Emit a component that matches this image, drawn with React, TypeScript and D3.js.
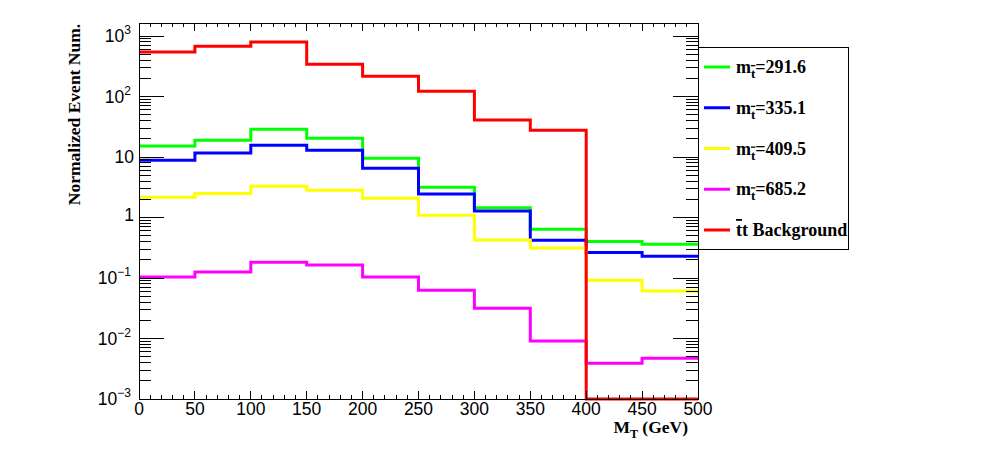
import { useEffect, useRef } from 'react';
import * as d3 from 'd3';

const W = 998;
const H = 471;

// bin edges in M_T (GeV)
const BIN_EDGES = [0, 50, 100, 150, 200, 250, 300, 350, 400, 450, 500];

const SIG_291 = [15.2, 19, 28.7, 20.5, 9.5, 3.16, 1.45, 0.64, 0.4, 0.36];
const SIG_335 = [8.8, 11.6, 15.6, 12.9, 6.5, 2.44, 1.28, 0.42, 0.265, 0.228];
const SIG_409 = [2.16, 2.5, 3.3, 2.82, 2.08, 1.09, 0.425, 0.313, 0.092, 0.061];
const SIG_685 = [0.104, 0.126, 0.182, 0.164, 0.104, 0.0627, 0.0316, 0.0091, 0.0039, 0.0047];
const TTBAR = [545, 675, 795, 340, 216, 122, 40.9, 27.6, 0, 0];

const SERIES = [
  { mass: '291.6', values: SIG_291, color: '#00ff00' },
  { mass: '335.1', values: SIG_335, color: '#0000ff' },
  { mass: '409.5', values: SIG_409, color: '#ffff00' },
  { mass: '685.2', values: SIG_685, color: '#ff00ff' },
  { mass: null, values: TTBAR, color: '#ff0000' },
];

const X_TICKS = [0, 50, 100, 150, 200, 250, 300, 350, 400, 450, 500];
const Y_TICKS = [1e-3, 1e-2, 1e-1, 1, 10, 1e2, 1e3];
const Y_LABELS = [['10', '\u22123'], ['10', '\u22122'], ['10', '\u22121'], ['1', ''], ['10', ''], ['10', '2'], ['10', '3']];

export default function App() {
  const svgRef = useRef<SVGSVGElement>(null);

  useEffect(() => {
    const svg = d3.select(svgRef.current);
    svg.selectAll('*').remove();

    const left = 139, right = 698, top = 23.3, bottom = 399;
    const yMin = 1e-3, yMax = Math.pow(10, 3.21);

    const x = d3.scaleLinear().domain([0, 500]).range([left, right]);
    const y = d3.scaleLog().domain([yMin, yMax]).range([bottom, top]);

    svg.append('rect').attr('width', W).attr('height', H).attr('fill', '#fff');

    // histograms
    const line = d3.line<[number, number]>()
      .x(d => x(d[0]))
      .y(d => y(Math.max(d[1], yMin)));

    const g = svg.append('g');
    SERIES.forEach(s => {
      const pts: [number, number][] = [];
      s.values.forEach((v, i) => {
        pts.push([BIN_EDGES[i], v]);
        pts.push([BIN_EDGES[i + 1], v]);
      });
      g.append('path')
        .attr('d', line(pts))
        .attr('fill', 'none')
        .attr('stroke', s.color)
        .attr('stroke-width', 3);
    });

    // frame
    const axes = svg.append('g').attr('stroke', '#000').attr('stroke-width', 1).attr('shape-rendering', 'crispEdges');
    axes.append('rect')
      .attr('x', left).attr('y', top)
      .attr('width', right - left).attr('height', bottom - top)
      .attr('fill', 'none');

    // x ticks (bottom & top)
    const xMinor = d3.range(0, 501, 10);
    xMinor.forEach(v => {
      const major = v % 50 === 0;
      const len = major ? 8 : 4;
      axes.append('line').attr('x1', x(v)).attr('x2', x(v)).attr('y1', bottom).attr('y2', bottom - len);
      axes.append('line').attr('x1', x(v)).attr('x2', x(v)).attr('y1', top).attr('y2', top + len);
    });

    // y ticks (left & right)
    for (let e = -3; e <= 3; e++) {
      for (let m = 1; m <= 9; m++) {
        const v = m * Math.pow(10, e);
        if (v > yMax) continue;
        const len = m === 1 ? 25 : 12;
        axes.append('line').attr('x1', left).attr('x2', left + len).attr('y1', y(v)).attr('y2', y(v));
        axes.append('line').attr('x1', right).attr('x2', right - len).attr('y1', y(v)).attr('y2', y(v));
      }
    }

    // tick labels
    const font = "'Liberation Sans', Arial, sans-serif";
    X_TICKS.forEach(v => {
      svg.append('text')
        .attr('x', x(v)).attr('y', 415)
        .attr('text-anchor', 'middle')
        .attr('font-family', font).attr('font-size', 17.5)
        .text(String(v));
    });

    Y_TICKS.forEach((v, i) => {
      const [base, exp] = Y_LABELS[i];
      const t = svg.append('text')
        .attr('x', exp ? 131 : 134).attr('y', y(v) + (base === '1' ? 3 : 6))
        .attr('text-anchor', 'end')
        .attr('font-family', font).attr('font-size', 17.5);
      t.append('tspan').text(base);
      if (exp) t.append('tspan').attr('font-size', 12).attr('dy', -8).text(exp);
    });

    // axis titles
    const serif = "'Liberation Serif', 'Times New Roman', serif";
    svg.append('text')
      .attr('transform', 'translate(80,114.5) rotate(-90)')
      .attr('text-anchor', 'middle')
      .attr('font-family', serif).attr('font-weight', 'bold').attr('font-size', 17.5)
      .text('Normalized Event Num.');

    const xt = svg.append('text')
      .attr('x', 688).attr('y', 433)
      .attr('text-anchor', 'end')
      .attr('font-family', serif).attr('font-weight', 'bold').attr('font-size', 17.5);
    xt.append('tspan').text('M');
    xt.append('tspan').attr('font-size', 12).attr('dy', 5).text('T');
    xt.append('tspan').attr('dy', -5).text(' (GeV)');

    // legend
    const lg = svg.append('g');
    lg.append('rect')
      .attr('x', 698).attr('y', 47).attr('width', 150).attr('height', 202)
      .attr('fill', '#fff').attr('stroke', '#000').attr('stroke-width', 1)
      .attr('shape-rendering', 'crispEdges');

    const rowY = d3.scalePoint<number>().domain(d3.range(SERIES.length)).range([67, 230]);
    SERIES.forEach((s, i) => {
      const cy = rowY(i)!;
      lg.append('line')
        .attr('x1', 704).attr('x2', 730).attr('y1', cy).attr('y2', cy)
        .attr('stroke', s.color).attr('stroke-width', 3);
      const t = lg.append('text')
        .attr('x', 736).attr('y', cy + 6)
        .attr('font-family', serif).attr('font-weight', 'bold').attr('font-size', 18);
      if (s.mass) {
        t.append('tspan').text('m');
        t.append('tspan').attr('font-size', 13).attr('dy', 5)
          .style('text-decoration', 'overline').text('t');
        t.append('tspan').attr('dy', -5).text('=' + s.mass);
      } else {
        t.append('tspan').style('text-decoration', 'overline').text('t');
        t.append('tspan').text('t Background');
      }
    });
  }, []);

  return (
    <svg ref={svgRef} width={W} height={H} style={{ display: 'block', position: 'absolute', left: 0, top: 0 }} />
  );
}
